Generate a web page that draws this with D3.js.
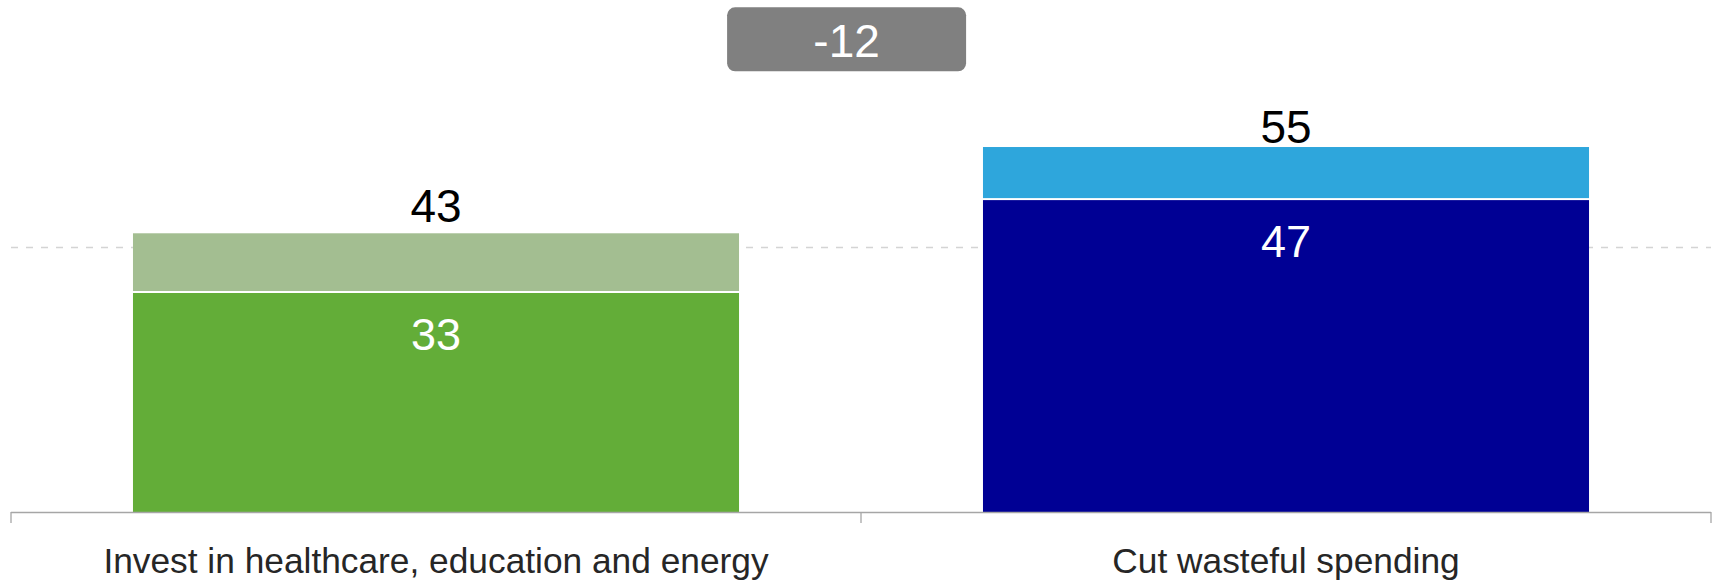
<!DOCTYPE html>
<html>
<head>
<meta charset="utf-8">
<script src="https://cdn.jsdelivr.net/npm/d3@7"></script>
<style>
  html, body { margin: 0; padding: 0; background: #fff; }
  svg { display: block; font-family: "Liberation Sans", Arial, sans-serif; }
</style>
</head>
<body>
<svg id="chart" width="1713" height="580"></svg>
<script>
// ---- data ----
const categories = ["Invest in healthcare, education and energy", "Cut wasteful spending"];
const baseValues = [33, 47];        // lower (dark) segment
const topValues = [9, 8];           // upper (light) segment
const totalLabels = [43, 55];       // reported totals
const baseColors = ["#63ad38", "#000094"];
const topColors = ["#a3be91", "#2ea6dc"];
const gridValues = [40];

// ---- layout ----
const W = 1713, H = 580;
const axisLeft = 11, axisRight = 1711, axisY = 512;
const svg = d3.select("#chart");

const x = d3.scaleBand().domain(categories).range([axisLeft, axisRight]).padding(0);
const barW = x.bandwidth() * 0.713;
const y = d3.scaleLinear().domain([0, 75]).range([axisY, axisY - 75 * 6.636]);

// gridline
svg.selectAll(".grid").data(gridValues).join("line")
  .attr("x1", axisLeft).attr("x2", axisRight)
  .attr("y1", d => Math.round(y(d)) + 0.5).attr("y2", d => Math.round(y(d)) + 0.5)
  .attr("stroke", "#d4d4d4").attr("stroke-width", 1.5)
  .attr("stroke-dasharray", "7,8");

const data = categories.map((c, i) => ({
  cat: c, base: baseValues[i], top: topValues[i], total: totalLabels[i],
  baseColor: baseColors[i], topColor: topColors[i]
}));

const g = svg.selectAll(".bar").data(data).join("g");
const cx = d => x(d.cat) + x.bandwidth() / 2;

// base segment
g.append("rect")
  .attr("x", d => cx(d) - barW / 2)
  .attr("width", barW)
  .attr("y", d => y(d.base))
  .attr("height", d => y(0) - y(d.base))
  .attr("fill", d => d.baseColor);

// top segment
g.append("rect")
  .attr("x", d => cx(d) - barW / 2)
  .attr("width", barW)
  .attr("y", d => y(d.base + d.top))
  .attr("height", d => y(d.base) - y(d.base + d.top) - 2)
  .attr("fill", d => d.topColor);

// inner labels
g.append("text")
  .attr("x", cx)
  .attr("y", d => y(d.base) + 57)
  .attr("text-anchor", "middle")
  .attr("fill", "#fff")
  .attr("font-size", 45)
  .text(d => d.base);

// total labels
g.append("text")
  .attr("x", cx)
  .attr("y", d => y(d.total) - 4.5)
  .attr("text-anchor", "middle")
  .attr("fill", "#000")
  .attr("font-size", 46)
  .text(d => d.total);

// axis
const axis = d3.axisBottom(x).tickSize(0).tickPadding(0).tickFormat("");
const ax = svg.append("g").attr("transform", `translate(0,${axisY})`).call(axis);
ax.select(".domain").remove();
svg.append("line").attr("x1", axisLeft).attr("x2", axisRight)
  .attr("y1", axisY + 0.5).attr("y2", axisY + 0.5)
  .attr("stroke", "#a6a6a6").attr("stroke-width", 1.5);
const boundaries = [axisLeft, (axisLeft + axisRight) / 2, axisRight];
svg.selectAll(".tk").data(boundaries).join("line")
  .attr("x1", d => d).attr("x2", d => d)
  .attr("y1", axisY).attr("y2", axisY + 11)
  .attr("stroke", "#a6a6a6").attr("stroke-width", 1.3);

// category labels
svg.selectAll(".cat").data(categories).join("text")
  .attr("x", d => x(d) + x.bandwidth() / 2)
  .attr("y", 572.5)
  .attr("text-anchor", "middle")
  .attr("fill", "#262626")
  .attr("font-size", 35.3)
  .text(d => d);

// difference box
const diff = totalLabels[0] - totalLabels[1];
const boxW = 239, boxH = 64, boxCx = 846.6, boxY = 7.3;
svg.append("rect")
  .attr("x", boxCx - boxW / 2).attr("y", boxY)
  .attr("width", boxW).attr("height", boxH)
  .attr("rx", 8).attr("ry", 8)
  .attr("fill", "#808080");
svg.append("text")
  .attr("x", boxCx).attr("y", 56.5)
  .attr("text-anchor", "middle")
  .attr("fill", "#fff")
  .attr("font-size", 46)
  .text(diff);
</script>
</body>
</html>
